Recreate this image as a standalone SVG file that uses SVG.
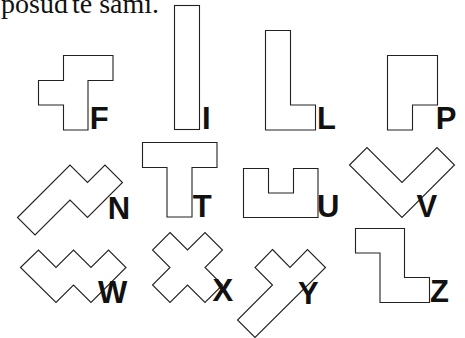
<svg xmlns="http://www.w3.org/2000/svg" width="465" height="338" viewBox="0 0 465 338">
<style>
.p{fill:#fff;stroke:#222;stroke-width:1.1;stroke-linejoin:miter}
.l{font-family:"Liberation Sans",Arial,sans-serif;font-weight:bold;font-size:31px;fill:#111}
.h{font-family:"Liberation Serif","Times New Roman",serif;font-size:28px;fill:#111}
</style>
<rect width="465" height="338" fill="#fff"/>
<text class="h" x="1" y="12.5">posuďte sami.</text>
<g id="F"><path class="p" d="M63.5,55.5H113V80.5H88V130H63.5V105H38.5V80.5H63.5Z"/><text class="l" x="89.7" y="129">F</text></g>
<g id="I"><rect class="p" x="174.5" y="5.5" width="25" height="124"/><text class="l" x="202" y="129">I</text></g>
<g id="L"><path class="p" d="M265.5,30.5H290.5V105H315.5V130H265.5Z"/><text class="l" x="317" y="129">L</text></g>
<g id="P"><path class="p" d="M387.5,55.5H437.5V105H412.5V130H387.5Z"/><text class="l" x="435.7" y="129">P</text></g>
<g id="N"><path class="p" d="M17.5,217.5L70,165L87.5,182.5L105,165L122.5,182.5L87.5,217.5L70,200L35,235Z"/><text class="l" x="107.8" y="218.5">N</text></g>
<g id="T"><path class="p" d="M142.5,142.5H217V167.5H192V217H167V167.5H142.5Z"/><text class="l" x="192.7" y="217">T</text></g>
<g id="U"><path class="p" d="M243.5,168.5H268.5V193H293.5V168.5H318V217.5H243.5Z"/><text class="l" x="317" y="217">U</text></g>
<g id="V"><path class="p" d="M349.5,165L367,147.5L402,182.5L437,147.5L454.5,165L402,217.5Z"/><text class="l" x="416.5" y="217">V</text></g>
<g id="W"><path class="p" d="M20.5,267.5L38.5,250L56,267.5L73.5,250L91,267.5L108.5,250L126,267.5L91,302.5L73.5,285L56,302.5Z"/><text class="l" x="98" y="302.5">W</text></g>
<g id="X"><path class="p" d="M170,232.5L187.5,250L205,232.5L222.5,250L205,267.5L222.5,285L205,302.5L187.5,285L170,302.5L152.5,285L170,267.5L152.5,250Z"/><text class="l" x="212.4" y="300.7">X</text></g>
<g id="Y"><path class="p" d="M272.5,249.5L290,267.5L307.5,249.5L325.5,267.5L255,337.5L237.5,320L272.5,285L255,267.5Z"/><text class="l" x="298" y="304">Y</text></g>
<g id="Z"><path class="p" d="M355.5,228.5H404.5V277.5H429.5V302.5H380V253H355.5Z"/><text class="l" x="430" y="301.7">Z</text></g>
</svg>
